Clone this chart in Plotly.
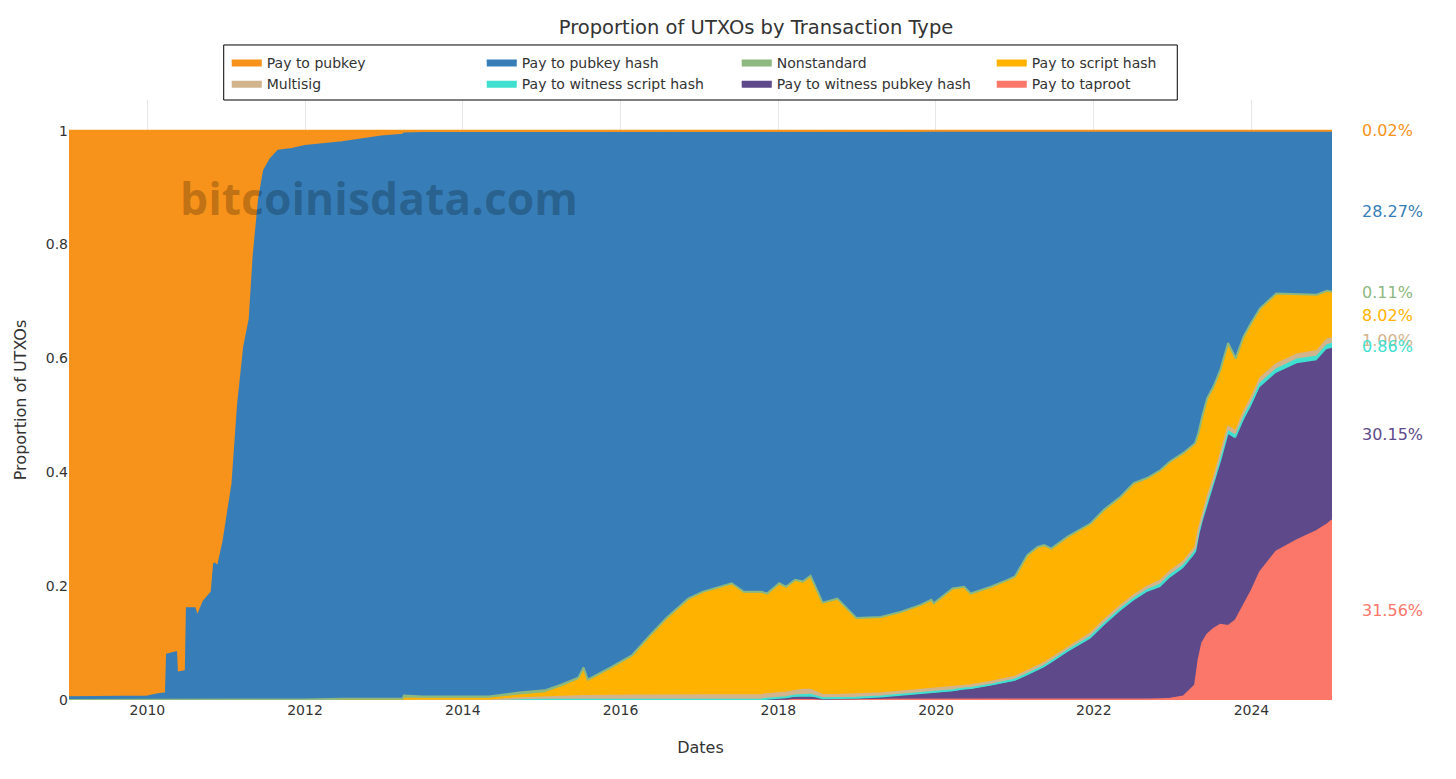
"""Proportion of UTXOs by transaction type"""

import plotly.graph_objects as go

# dates of the samples
dates = [
    "2009-01-03", "2009-07-01", "2010-01-01", "2010-02-20", "2010-03-28",
    "2010-04-02", "2010-05-14", "2010-05-18", "2010-06-28", "2010-07-03",
    "2010-08-08", "2010-08-20", "2010-09-18", "2010-10-26", "2010-11-06",
    "2010-11-24", "2010-12-20", "2011-01-30", "2011-02-25", "2011-03-25",
    "2011-04-20", "2011-05-08", "2011-06-02", "2011-06-25", "2011-07-25",
    "2011-08-30", "2011-11-01", "2012-01-01", "2012-06-20", "2012-12-20",
    "2013-03-28", "2013-04-03", "2013-07-01", "2014-05-01", "2014-09-20",
    "2015-01-15", "2015-04-01", "2015-06-20", "2015-07-14", "2015-08-02",
    "2015-11-15", "2016-02-25", "2016-05-15", "2016-08-01", "2016-11-10",
    "2017-01-15", "2017-04-05", "2017-05-30", "2017-07-25", "2017-10-15",
    "2017-11-10", "2018-01-05", "2018-02-05", "2018-03-20", "2018-04-25",
    "2018-05-30", "2018-07-25", "2018-10-01", "2018-12-28", "2019-04-20",
    "2019-07-25", "2019-10-22", "2019-12-10", "2019-12-22", "2020-03-18",
    "2020-05-10", "2020-06-10", "2020-09-12", "2020-11-28", "2021-01-01",
    "2021-02-28", "2021-04-16", "2021-05-16", "2021-06-18", "2021-09-02",
    "2021-12-17", "2022-02-17", "2022-05-05", "2022-07-05", "2022-09-05",
    "2022-11-06", "2022-12-20", "2023-02-20", "2023-04-15", "2023-05-01",
    "2023-05-18", "2023-06-10", "2023-07-10", "2023-08-10", "2023-09-15",
    "2023-10-20", "2023-11-25", "2023-12-30", "2024-02-10", "2024-04-25",
    "2024-07-30", "2024-10-30", "2024-12-15", "2025-01-08",
]

pay_to_pubkey = [
    0.995, 0.994, 0.994, 0.99, 0.988, 0.92, 0.916, 0.952, 0.949, 0.839,
    0.839, 0.854, 0.827, 0.81, 0.76, 0.765, 0.72, 0.62, 0.48, 0.38,
    0.33, 0.22, 0.12, 0.07, 0.05, 0.035, 0.032, 0.027, 0.02, 0.01,
    0.007, 0.005, 0.004, 0.004, 0.004, 0.004, 0.004, 0.004, 0.004, 0.004,
    0.004, 0.004, 0.004, 0.004, 0.004, 0.003, 0.003, 0.003, 0.003, 0.003,
    0.003, 0.003, 0.003, 0.003, 0.003, 0.003, 0.003, 0.003, 0.003, 0.003,
    0.003, 0.003, 0.002, 0.002, 0.002, 0.002, 0.002, 0.002, 0.002, 0.002,
    0.002, 0.002, 0.002, 0.002, 0.002, 0.0015, 0.0015, 0.0015, 0.0015, 0.0015,
    0.001, 0.001, 0.001, 0.001, 0.001, 0.001, 0.001, 0.001, 0.001, 0.001,
    0.001, 0.0006, 0.0006, 0.0006, 0.0006, 0.0004, 0.0004, 0.0003, 0.0002,
]
pay_to_pubkey_hash = [
    0.005, 0.006, 0.006, 0.01, 0.012, 0.08, 0.084, 0.048, 0.051, 0.161,
    0.161, 0.146, 0.173, 0.19, 0.24, 0.235, 0.28, 0.38, 0.52, 0.62,
    0.67, 0.78, 0.88, 0.93, 0.95, 0.965, 0.968, 0.972, 0.978, 0.988,
    0.991, 0.987, 0.99, 0.99, 0.983, 0.979, 0.969, 0.957, 0.939, 0.96,
    0.939, 0.917, 0.883, 0.852, 0.818, 0.807, 0.798, 0.792, 0.807, 0.807,
    0.81, 0.792, 0.798, 0.786, 0.789, 0.779, 0.826, 0.819, 0.853, 0.851,
    0.842, 0.83, 0.822, 0.828, 0.802, 0.799, 0.811, 0.799, 0.787, 0.781,
    0.743, 0.729, 0.726, 0.732, 0.711, 0.6885, 0.6645, 0.6415, 0.6175, 0.6085,
    0.595, 0.58, 0.565, 0.548, 0.529, 0.501, 0.469, 0.448, 0.419, 0.372,
    0.399, 0.3614, 0.3374, 0.3114, 0.2854, 0.2866, 0.2876, 0.2807, 0.2827,
]
nonstandard = [
    0, 0, 0, 0, 0, 0, 0, 0, 0, 0,
    0, 0, 0, 0, 0, 0, 0, 0, 0, 0,
    0, 0, 0, 0, 0, 0, 0, 0.001, 0.001, 0.001,
    0.001, 0.006, 0.004, 0.004, 0.005, 0.005, 0.005, 0.004, 0.006, 0.004,
    0.004, 0.004, 0.003, 0.003, 0.003, 0.003, 0.003, 0.003, 0.003, 0.003,
    0.003, 0.003, 0.003, 0.003, 0.003, 0.003, 0.002, 0.002, 0.002, 0.002,
    0.002, 0.002, 0.002, 0.002, 0.002, 0.002, 0.002, 0.002, 0.002, 0.002,
    0.002, 0.002, 0.002, 0.002, 0.002, 0.002, 0.002, 0.002, 0.002, 0.002,
    0.0015, 0.0015, 0.0015, 0.0015, 0.0015, 0.0015, 0.0015, 0.0015, 0.0015, 0.0015,
    0.0015, 0.0012, 0.0012, 0.0012, 0.0012, 0.0012, 0.0012, 0.0011, 0.0011,
]
pay_to_script_hash = [
    0, 0, 0, 0, 0, 0, 0, 0, 0, 0,
    0, 0, 0, 0, 0, 0, 0, 0, 0, 0,
    0, 0, 0, 0, 0, 0, 0, 0, 0.0005, 0.0005,
    0.0005, 0.001, 0.001, 0.001, 0.005, 0.007, 0.016, 0.028, 0.044, 0.025,
    0.045, 0.067, 0.102, 0.133, 0.167, 0.179, 0.188, 0.194, 0.179, 0.178,
    0.174, 0.19, 0.183, 0.192, 0.187, 0.197, 0.16, 0.167, 0.132, 0.132,
    0.138, 0.147, 0.155, 0.149, 0.172, 0.172, 0.159, 0.165, 0.171, 0.174,
    0.202, 0.208, 0.205, 0.191, 0.193, 0.191, 0.192, 0.189, 0.195, 0.189,
    0.1925, 0.1915, 0.1895, 0.1815, 0.1685, 0.1715, 0.1735, 0.1595, 0.1485, 0.1455,
    0.1265, 0.1318, 0.1308, 0.1218, 0.1228, 0.1048, 0.0978, 0.0849, 0.0802,
]
multisig = [
    0, 0, 0, 0, 0, 0, 0, 0, 0, 0,
    0, 0, 0, 0, 0, 0, 0, 0, 0, 0,
    0, 0, 0, 0, 0, 0, 0, 0, 0.0005, 0.0005,
    0.0005, 0.001, 0.001, 0.001, 0.003, 0.005, 0.006, 0.007, 0.007, 0.007,
    0.008, 0.008, 0.008, 0.008, 0.008, 0.008, 0.008, 0.008, 0.008, 0.008,
    0.008, 0.008, 0.008, 0.008, 0.009, 0.009, 0.006, 0.006, 0.006, 0.006,
    0.006, 0.005, 0.005, 0.005, 0.005, 0.005, 0.005, 0.005, 0.005, 0.005,
    0.005, 0.005, 0.005, 0.005, 0.005, 0.006, 0.006, 0.006, 0.006, 0.006,
    0.007, 0.007, 0.007, 0.007, 0.007, 0.007, 0.008, 0.008, 0.008, 0.008,
    0.008, 0.009, 0.009, 0.009, 0.009, 0.009, 0.0095, 0.01, 0.01,
]
pay_to_witness_script_hash = [
    0, 0, 0, 0, 0, 0, 0, 0, 0, 0,
    0, 0, 0, 0, 0, 0, 0, 0, 0, 0,
    0, 0, 0, 0, 0, 0, 0, 0, 0, 0,
    0, 0, 0, 0, 0, 0, 0, 0, 0, 0,
    0, 0, 0, 0, 0, 0, 0, 0, 0, 0.001,
    0.001, 0.002, 0.003, 0.004, 0.005, 0.005, 0.001, 0.001, 0.001, 0.002,
    0.002, 0.003, 0.003, 0.003, 0.003, 0.003, 0.003, 0.003, 0.004, 0.004,
    0.004, 0.004, 0.004, 0.004, 0.004, 0.005, 0.005, 0.005, 0.005, 0.005,
    0.006, 0.006, 0.006, 0.006, 0.007, 0.007, 0.007, 0.007, 0.007, 0.007,
    0.007, 0.008, 0.008, 0.008, 0.008, 0.008, 0.0085, 0.0086, 0.0086,
]
pay_to_witness_pubkey_hash = [
    0, 0, 0, 0, 0, 0, 0, 0, 0, 0,
    0, 0, 0, 0, 0, 0, 0, 0, 0, 0,
    0, 0, 0, 0, 0, 0, 0, 0, 0, 0,
    0, 0, 0, 0, 0, 0, 0, 0, 0, 0,
    0, 0, 0, 0, 0, 0, 0, 0, 0, 0,
    0.001, 0.002, 0.002, 0.004, 0.004, 0.004, 0.002, 0.002, 0.003, 0.004,
    0.007, 0.01, 0.011, 0.011, 0.014, 0.017, 0.018, 0.024, 0.029, 0.032,
    0.042, 0.05, 0.056, 0.064, 0.083, 0.1055, 0.128, 0.154, 0.172, 0.187,
    0.1955, 0.211, 0.224, 0.229, 0.216, 0.211, 0.225, 0.25, 0.283, 0.335,
    0.317, 0.323, 0.323, 0.323, 0.312, 0.309, 0.298, 0.3064, 0.3015,
]
pay_to_taproot = [
    0, 0, 0, 0, 0, 0, 0, 0, 0, 0,
    0, 0, 0, 0, 0, 0, 0, 0, 0, 0,
    0, 0, 0, 0, 0, 0, 0, 0, 0, 0,
    0, 0, 0, 0, 0, 0, 0, 0, 0, 0,
    0, 0, 0, 0, 0, 0, 0, 0, 0, 0,
    0, 0, 0, 0, 0, 0, 0, 0, 0, 0,
    0, 0, 0, 0, 0, 0, 0, 0, 0, 0,
    0, 0, 0, 0, 0, 0.0005, 0.001, 0.001, 0.001, 0.001,
    0.0015, 0.002, 0.006, 0.026, 0.07, 0.1, 0.115, 0.125, 0.132, 0.13,
    0.14, 0.165, 0.19, 0.225, 0.261, 0.281, 0.297, 0.308, 0.3156,
]

# stacking order: first one is at the bottom
series = [
    ("Pay to taproot", pay_to_taproot, "#FA776A"),
    ("Pay to witness pubkey hash", pay_to_witness_pubkey_hash, "#5E4A8B"),
    ("Pay to witness script hash", pay_to_witness_script_hash, "#40E0D0"),
    ("Multisig", multisig, "#D2B48C"),
    ("Pay to script hash", pay_to_script_hash, "#FFB300"),
    ("Nonstandard", nonstandard, "#8DB87F"),
    ("Pay to pubkey hash", pay_to_pubkey_hash, "#377EB8"),
    ("Pay to pubkey", pay_to_pubkey, "#F7931A"),
]

fig = go.Figure()
for name, values, color in series:
    fig.add_trace(go.Scatter(x=dates, y=values, name=name, mode="lines",
                             stackgroup="utxo", line=dict(color=color, width=2),
                             fillcolor=color))

# last value of each type, written in the middle of its band
labels = []
base = 0
for name, values, color in series:
    last = values[-1]
    labels.append(dict(x=1.022, xref="paper", xanchor="left",
                       y=base + last / 2, yref="y", yanchor="middle",
                       text=f"{last * 100:.2f}%", showarrow=False,
                       font=dict(color=color, size=16)))
    base += last
labels.reverse()

# watermark
labels.append(dict(x=0.2455, y=0.837, xref="paper", yref="paper",
                   xanchor="center", yanchor="middle",
                   text="<b>bitcoinisdata.com</b>", showarrow=False,
                   font=dict(family="Open Sans", size=44.5,
                             color="rgba(0,0,0,0.23)")))

# the page has an 8px body margin, so the figure is made 8px smaller
fig.update_layout(
    width=1448, height=771,
    margin=dict(l=59, r=124, t=92, b=79),
    paper_bgcolor="white", plot_bgcolor="white",
    font=dict(family="DejaVu Sans, Verdana, sans-serif", color="#333", size=14),
    title=dict(text="Proportion of UTXOs by Transaction Type", x=0.5166,
               xanchor="center", y=0.9754, yref="container", yanchor="middle",
               font=dict(size=19.5)),
    legend=dict(orientation="h", x=0.1249, xanchor="left", y=1, yanchor="bottom",
                traceorder="reversed", borderwidth=0, bgcolor="rgba(0,0,0,0)",
                entrywidth=210, font=dict(size=14)),
    shapes=[dict(type="rect", xref="paper", yref="paper",
                 x0=0.1225, x1=0.8775, y0=1.0, y1=1.0917,
                 line=dict(color="black", width=1))],
    xaxis=dict(title=dict(text="Dates", font=dict(size=16), standoff=24),
               type="date", range=["2009-01-03", "2025-01-08"], showgrid=True,
               gridcolor="#e8e8e8", zeroline=False, ticks=""),
    yaxis=dict(title=dict(text="Proportion of UTXOs", font=dict(size=16)),
               range=[0, 1.054], tickvals=[0, 0.2, 0.4, 0.6, 0.8, 1],
               showgrid=True, gridcolor="#e8e8e8", zeroline=False),
    annotations=labels,
    hovermode="x unified",
)

fig.write_html("out.html")
